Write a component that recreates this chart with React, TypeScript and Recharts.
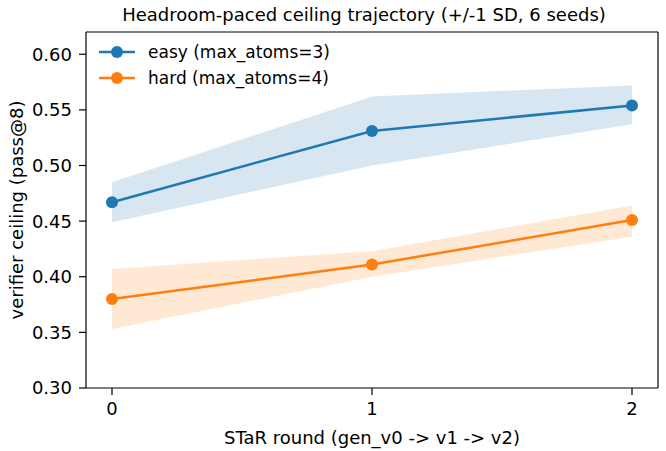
import React from "react";
import {
  ComposedChart,
  Area,
  Line,
  XAxis,
  YAxis,
  ReferenceLine,
} from "recharts";

// STaR rounds on the x axis
const rounds = [0, 1, 2];
const roundTicks = [0, 1, 2];
const ceilingTicks = [0.3, 0.35, 0.4, 0.45, 0.5, 0.55, 0.6];

// easy split (max_atoms=3): mean and +/-1 SD band
const easyMean = [0.467, 0.531, 0.554];
const easyLow = [0.449, 0.5, 0.537];
const easyHigh = [0.485, 0.562, 0.572];

// hard split (max_atoms=4): mean and +/-1 SD band
const hardMean = [0.38, 0.411, 0.451];
const hardLow = [0.353, 0.4, 0.436];
const hardHigh = [0.407, 0.423, 0.464];

const BLUE = "#1f77b4";
const ORANGE = "#ff7f0e";
const FONT = "'DejaVu Sans', sans-serif";

const rows = rounds.map((r, i) => ({
  round: r,
  easy: easyMean[i],
  easyBand: [easyLow[i], easyHigh[i]],
  hard: hardMean[i],
  hardBand: [hardLow[i], hardHigh[i]],
}));

const legendItems = [
  { label: "easy (max_atoms=3)", color: BLUE },
  { label: "hard (max_atoms=4)", color: ORANGE },
];

export default function App() {
  return (
    <div style={{ position: "absolute", left: 0, top: 0, width: 666, height: 451, background: "#fff" }}>
      <ComposedChart
        width={666}
        height={451}
        data={rows}
        margin={{ top: 32, right: 8, bottom: 0, left: 0 }}
      >
        <XAxis
          dataKey="round"
          type="number"
          domain={[-0.1, 2.1]}
          ticks={roundTicks}
          allowDataOverflow
          height={63}
          tickSize={7}
          tickMargin={7}
          tickLine={{ stroke: "#000", strokeWidth: 1.2 }}
          axisLine={{ stroke: "#000", strokeWidth: 1.2 }}
          tick={{ fill: "#000", fontSize: 18, fontFamily: FONT }}
          label={{
            value: "STaR round (gen_v0 -> v1 -> v2)",
            position: "insideBottom",
            offset: 7,
            fill: "#000",
            fontSize: 18,
            fontFamily: FONT,
          }}
        />
        <YAxis
          type="number"
          domain={[0.3, 0.62]}
          ticks={ceilingTicks}
          allowDataOverflow
          width={86}
          tickSize={7}
          tickMargin={7}
          tickFormatter={(v: number) => v.toFixed(2)}
          tickLine={{ stroke: "#000", strokeWidth: 1.2 }}
          axisLine={{ stroke: "#000", strokeWidth: 1.2 }}
          tick={{ fill: "#000", fontSize: 18, fontFamily: FONT }}
        />
        <ReferenceLine y={0.62} stroke="#000" strokeWidth={1.2} />
        <ReferenceLine x={2.1} stroke="#000" strokeWidth={1.2} />
        <Area
          dataKey="easyBand"
          stroke="none"
          fill={BLUE}
          fillOpacity={0.18}
          isAnimationActive={false}
          activeDot={false}
        />
        <Area
          dataKey="hardBand"
          stroke="none"
          fill={ORANGE}
          fillOpacity={0.18}
          isAnimationActive={false}
          activeDot={false}
        />
        <Line
          dataKey="easy"
          stroke={BLUE}
          strokeWidth={2.5}
          dot={{ r: 6, fill: BLUE, stroke: BLUE, strokeWidth: 0 }}
          activeDot={false}
          isAnimationActive={false}
        />
        <Line
          dataKey="hard"
          stroke={ORANGE}
          strokeWidth={2.5}
          dot={{ r: 6, fill: ORANGE, stroke: ORANGE, strokeWidth: 0 }}
          activeDot={false}
          isAnimationActive={false}
        />
        {/* legend, upper left inside the axes */}
        <g>
          {legendItems.map((it, i) => {
            const y = 52 + i * 26;
            return (
              <g key={it.label}>
                <line x1={99} x2={135} y1={y} y2={y} stroke={it.color} strokeWidth={2.5} />
                <circle cx={117} cy={y} r={6} fill={it.color} />
                <text
                  x={148}
                  y={y}
                  dy="0.35em"
                  fontSize={17}
                  fontFamily={FONT}
                  fill="#000"
                >
                  {it.label}
                </text>
              </g>
            );
          })}
        </g>
        {/* y axis title */}
        <text
          x={16}
          y={210}
          transform="rotate(-90 16 210)"
          textAnchor="middle"
          dominantBaseline="central"
          fontSize={18}
          fontFamily={FONT}
          fill="#000"
        >
          verifier ceiling (pass@8)
        </text>
        <text
          x={364}
          y={16}
          textAnchor="middle"
          dominantBaseline="middle"
          fontSize={18}
          fontFamily={FONT}
          fill="#000"
        >
          Headroom-paced ceiling trajectory (+/-1 SD, 6 seeds)
        </text>
      </ComposedChart>
    </div>
  );
}
